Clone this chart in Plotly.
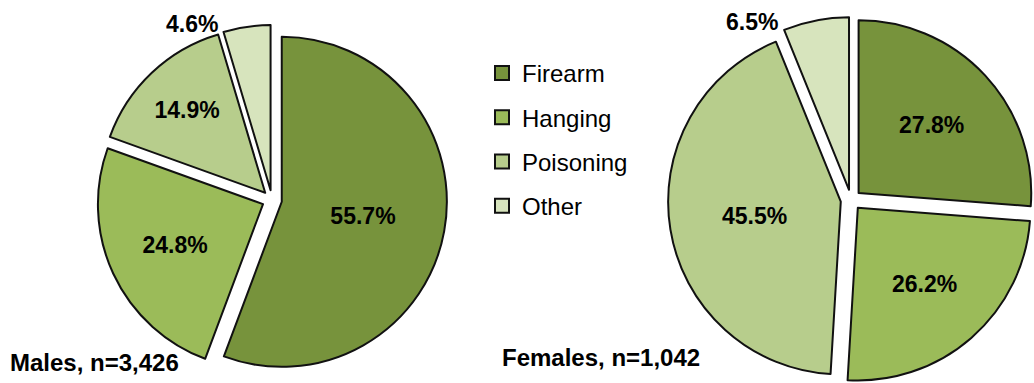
import math
import plotly.graph_objects as go

methods = ["Firearm", "Hanging", "Poisoning", "Other"]
male_values = [55.7, 24.8, 14.9, 4.6]
female_values = [27.8, 26.2, 45.5, 6.5]
colors = ["#77933C", "#9BBB59", "#B7CD8C", "#D7E4BD"]
male_title = "Males, n=3,426"
female_title = "Females, n=1,042"

W, H = 1034, 383
PULL = 0.06
FONT_B = "Liberation Sans Narrow, Arial Narrow, Liberation Sans, Arial, sans-serif"

fig = go.Figure()
annotations = []


def add_pie(values, dx, dy, name):
    n = len(values)
    fig.add_trace(go.Pie(
        labels=methods, values=values, name=name,
        sort=False, direction="clockwise", rotation=0,
        marker=dict(colors=colors, line=dict(color="#111111", width=2)),
        pull=[PULL] * n,
        texttemplate=["%{value:.1f}%"] * (n - 1) + [""],
        textposition=["inside"] * (n - 1) + ["none"],
        textfont=dict(family=FONT_B, size=23, color="#000000", weight="bold"),
        insidetextorientation="horizontal",
        hoverinfo="label+value",
        showlegend=False,
        domain=dict(x=dx, y=dy),
    ))
    # label of the last (small) slice, placed outside at its outer left corner
    bw = (dx[1] - dx[0]) * W
    bh = (dy[1] - dy[0]) * H
    r = min(bw, bh) / (2 + 2 * PULL)
    cx = (dx[0] + dx[1]) / 2 * W
    cy = (1 - (dy[0] + dy[1]) / 2) * H
    tot = sum(values)
    start = sum(values[:-1]) / tot * 2 * math.pi
    mid = (sum(values[:-1]) + values[-1] / 2) / tot * 2 * math.pi
    px = cx + PULL * r * math.sin(mid) + r * math.sin(start)
    py = cy - PULL * r * math.cos(mid) - r * math.cos(start)
    annotations.append(dict(
        text=f"{values[-1]:.1f}%", x=(px - 4) / W, y=1 - (py + 7) / H,
        xref="paper", yref="paper", xanchor="right", yanchor="bottom",
        showarrow=False,
        font=dict(family=FONT_B, size=23, color="#000000", weight="bold")))


add_pie(male_values, [97 / W, 447 / W], [8 / H, 358 / H], "Males")
add_pie(female_values, [668 / W, 1.0], [0.0, 366 / H], "Females")

# legend entries (one group per method so spacing can be set)
for m, c in zip(methods, colors):
    fig.add_trace(go.Scatter(
        x=[None], y=[None], mode="markers", name=m, legendgroup=m,
        marker=dict(symbol="square", size=14, color=c,
                    line=dict(color="#111111", width=2)),
        showlegend=True,
    ))

annotations += [
    dict(text=male_title, x=8 / W, y=1 - 362 / H, xref="paper", yref="paper",
         xanchor="left", yanchor="middle", showarrow=False,
         font=dict(family=FONT_B, size=24, color="#000000", weight="bold")),
    dict(text=female_title, x=500 / W, y=1 - 357 / H, xref="paper", yref="paper",
         xanchor="left", yanchor="middle", showarrow=False,
         font=dict(family=FONT_B, size=24, color="#000000", weight="bold")),
]

fig.update_layout(
    width=W, height=H,
    margin=dict(l=0, r=0, t=0, b=0),
    paper_bgcolor="white", plot_bgcolor="white",
    xaxis=dict(visible=False, domain=[0.47, 0.48]),
    yaxis=dict(visible=False, domain=[0.5, 0.51]),
    legend=dict(
        x=482 / W, y=1 - 51 / H, xanchor="left", yanchor="top",
        font=dict(family=FONT_B, size=24, color="#000000"),
        tracegroupgap=10, itemwidth=30,
        bgcolor="rgba(0,0,0,0)",
    ),
    annotations=annotations,
)

fig.write_html("out.html")
